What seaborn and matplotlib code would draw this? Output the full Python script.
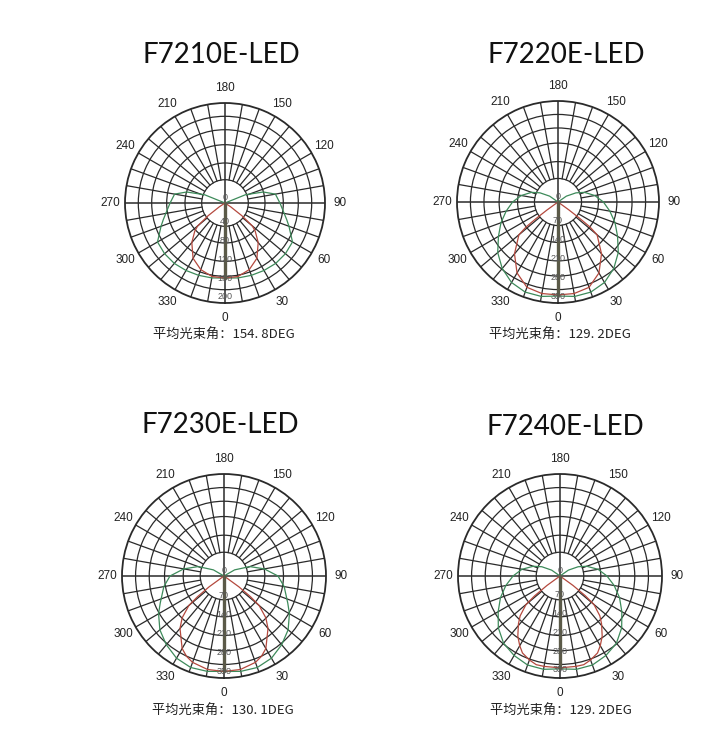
import numpy as np
import pandas as pd
import matplotlib
matplotlib.use("Agg")
import matplotlib.pyplot as plt
import seaborn as sns

# model names and average beam angle shown under each chart
models = ["F7210E-LED", "F7220E-LED", "F7230E-LED", "F7240E-LED"]
beam_angles = ["154. 8", "129. 2", "130. 1", "129. 2"]

# radial scale (cd) of each chart and the labels written along the 0 axis
scale_max = [213, 376, 374, 380]
radial_labels = [
    [0, 40, 80, 120, 160, 200],
    [0, 70, 140, 210, 280, 350],
    [0, 70, 140, 210, 280, 350],
    [0, 70, 140, 210, 280, 350],
]

# intensity curves, half profile (degrees from 0, cd); mirrored to the other side
red_ang_1 = [0, 10, 20, 30, 40, 47, 50, 53, 56, 58]
red_cd_1 = [160, 159, 151, 136, 110, 88, 76, 45, 15, 0]
green_ang_1 = [0, 10, 20, 30, 40, 50, 60, 70, 75, 80, 90, 100, 106, 112, 118]
green_cd_1 = [160, 162, 164, 166, 168, 168, 166, 145, 136, 128, 117, 109, 85, 47, 0]

red_ang_2 = [0, 10, 20, 30, 40, 50, 52, 53, 54, 55]
red_cd_2 = [346, 346, 338, 305, 252, 190, 150, 100, 50, 0]
green_ang_2 = [0, 10, 20, 30, 40, 50, 60, 70, 80, 90, 100, 110, 117, 125, 132]
green_cd_2 = [350, 357, 357, 346, 323, 293, 256, 226, 196, 169, 139, 105, 75, 38, 0]

red_ang_3 = [0, 10, 20, 25, 30, 40, 45, 50, 52, 54, 56]
red_cd_3 = [350, 348, 337, 325, 307, 251, 217, 168, 123, 67, 0]
green_ang_3 = [0, 10, 20, 30, 40, 50, 60, 67, 80, 90, 100, 110, 120, 128]
green_cd_3 = [350, 355, 357, 348, 329, 307, 277, 254, 224, 198, 150, 101, 45, 0]

red_ang_4 = [0, 10, 15, 20, 26, 30, 35, 41, 45, 50, 52, 54, 56]
red_cd_4 = [342, 342, 342, 333, 319, 300, 274, 236, 210, 165, 120, 60, 0]
green_ang_4 = [0, 10, 20, 30, 40, 50, 60, 70, 80, 90, 100, 110, 117, 125, 132]
green_cd_4 = [346, 353, 353, 342, 327, 300, 266, 236, 205, 175, 144, 106, 76, 38, 0]

red_curves = [(red_ang_1, red_cd_1), (red_ang_2, red_cd_2),
              (red_ang_3, red_cd_3), (red_ang_4, red_cd_4)]
green_curves = [(green_ang_1, green_cd_1), (green_ang_2, green_cd_2),
                (green_ang_3, green_cd_3), (green_ang_4, green_cd_4)]

angle_ticks = list(range(0, 360, 30))
ring_fracs = [0.233, 0.40, 0.583, 0.733, 0.867]

# layout in pixels: chart centre, radius, title centre, caption centre
W, H = 723, 741
centers = [(225, 203), (558, 202), (224, 576), (560, 576)]
radius = [100, 101, 102, 102]
title_pos = [(221, 55), (566, 55), (220, 425), (565, 427)]
caption_pos = [(224, 335), (560, 335), (223, 711), (561, 711)]

sns.set_style("white")
plt.rcParams["font.family"] = ["Liberation Sans", "DejaVu Sans"]

fig = plt.figure(figsize=(W / 100, H / 100), dpi=100)

grid_col = "#2a2a2a"


def mirrored(ang, vals):
    a = np.array(ang, dtype=float)
    v = np.array(vals, dtype=float)
    th = np.concatenate([-a[::-1], a[1:]])
    r = np.concatenate([v[::-1], v[1:]])
    return pd.DataFrame({"theta": np.deg2rad(th), "cd": r})


for i in range(4):
    cx, cy = centers[i]
    rad = radius[i]
    ax = fig.add_axes([(cx - rad) / W, 1 - (cy + rad) / H, 2 * rad / W, 2 * rad / H],
                      projection="polar")
    rmax = scale_max[i]
    ax.set_theta_zero_location("S")
    ax.set_theta_direction(1)
    ax.set_ylim(0, rmax)

    # rings
    ax.set_yticks([f * rmax for f in ring_fracs])
    ax.set_yticklabels([])
    ax.yaxis.grid(True, color=grid_col, linewidth=0.9)
    ax.xaxis.grid(False)
    ax.spines["polar"].set_color(grid_col)
    ax.spines["polar"].set_linewidth(1.3)

    # spokes every 10 deg, main axes through the centre
    for d in range(0, 360, 10):
        r0 = 0 if d % 90 == 0 else ring_fracs[0] * rmax
        lw = 1.1 if d % 90 == 0 else 0.9
        ax.plot([np.deg2rad(d)] * 2, [r0, rmax], color=grid_col, lw=lw, zorder=1)

    ax.set_xticks(np.deg2rad(angle_ticks))
    ax.set_xticklabels([str(a) for a in angle_ticks], fontsize=8.5, color="#222222")
    ax.tick_params(axis="x", pad=0)

    red = mirrored(*red_curves[i])
    green = mirrored(*green_curves[i])
    sns.lineplot(data=green, x="theta", y="cd", ax=ax, sort=False, estimator=None,
                 color="#3d8a5a", linewidth=0.9, legend=False, zorder=3)
    sns.lineplot(data=red, x="theta", y="cd", ax=ax, sort=False, estimator=None,
                 color="#b4493e", linewidth=0.9, legend=False, zorder=3)
    ax.set_xlabel("")
    ax.set_ylabel("")

    # heavy 0-degree line up to the peak
    ax.plot([0, 0], [0, red_curves[i][1][0]], color="#5b5a48", lw=2.4, zorder=4)

    for v in radial_labels[i]:
        ax.annotate(str(v), xy=(0, v), xytext=(0, 4 if v == 0 else 0),
                    textcoords="offset points", ha="center", va="center",
                    fontsize=6.5, color="#555555", zorder=5)

    tx, ty = title_pos[i]
    fig.text(tx / W, 1 - ty / H, models[i], ha="center", va="center",
             fontsize=20, family=["Lato", "DejaVu Sans"], color="#111111")
    px, py = caption_pos[i]
    fig.text(px / W, 1 - py / H, "平均光束角：" + beam_angles[i] + "DEG",
             ha="center", va="center", fontsize=9.5,
             family=["Noto Sans CJK SC", "DejaVu Sans"], color="#222222")

fig.savefig("out.png", dpi=100)
